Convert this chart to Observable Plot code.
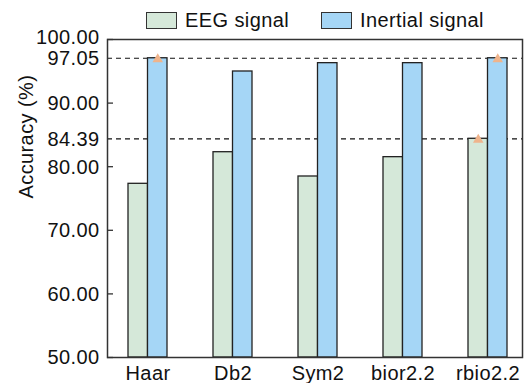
<!DOCTYPE html>
<html><head><meta charset="utf-8">
<script src="https://cdn.jsdelivr.net/npm/d3@7"></script>
<script src="https://cdn.jsdelivr.net/npm/@observablehq/plot@0.6"></script>
<style>
body{margin:0;background:#fff;font-family:"Liberation Sans",Arial,sans-serif;}
#wrap{position:relative;width:524px;height:383px;overflow:hidden}
#chart{position:absolute;left:0;top:0}
#chart svg text{letter-spacing:0.4px}
#legend{position:absolute;left:0;top:0;width:524px;height:34px;font-size:20px;letter-spacing:0.4px;color:#111}
.item{position:absolute;top:12px;display:flex;align-items:center;height:17px}
.sw{width:29px;height:15px;border:1px solid #333;margin-right:8px;box-sizing:content-box}
</style></head><body>
<div id="wrap"><div id="chart"></div><div id="legend"></div></div>
<script>
const categories = ["Haar", "Db2", "Sym2", "bior2.2", "rbio2.2"];
const seriesNames = ["EEG signal", "Inertial signal"];
const eegValues = [77.31, 82.28, 78.46, 81.50, 84.39];
const inertialValues = [97.05, 94.97, 96.28, 96.28, 97.05];
const yTicks = [50, 60, 70, 80, 90, 100];
const yTickLabels = [50, 60, 70, 80, 84.39, 90, 97.05];
const yTopLabel = [100];
const refLines = [97.05, 84.39];
const seriesColors = ["#d5e8d9", "#a5d6f6"];
const markerColor = "#efb48c";

const eeg = categories.map((c, i) => ({cat: c, value: eegValues[i]}));
const inertial = categories.map((c, i) => ({cat: c, value: inertialValues[i]}));
const eegMax = d3.max(eegValues), inMax = d3.max(inertialValues);
const eegMarks = eeg.filter(d => d.value === eegMax);
const inMarks = inertial.filter(d => d.value === inMax);

const half = 19.5;
const fs = 20;
const chart = Plot.plot({
  width: 524, height: 383,
  marginLeft: 107, marginRight: 2, marginTop: 39, marginBottom: 26,
  style: {fontFamily: '"Liberation Sans", Arial, sans-serif', fontSize: fs + "px", color: "#111", background: "#fff"},
  x: {domain: categories, range: [104.5, 529.5], paddingInner: 0.5412, paddingOuter: 0.2706, label: null},
  y: {domain: [50, 100], label: null},
  marks: [
    Plot.ruleY(refLines, {stroke: "#111", strokeDasharray: "5,4", strokeWidth: 1.2}),
    Plot.barY(eeg, {x: "cat", y: "value", y1: 50, fill: seriesColors[0], stroke: "#222", strokeWidth: 1.3, insetRight: half}),
    Plot.barY(inertial, {x: "cat", y: "value", y1: 50, fill: seriesColors[1], stroke: "#222", strokeWidth: 1.3, insetLeft: half}),
    Plot.frame({stroke: "#333", strokeWidth: 1.5}),
    Plot.axisY(yTicks, {tickSize: 6, dx: 6, tickFormat: () => "", stroke: "#333", strokeWidth: 1.3}),
    Plot.axisY(yTickLabels, {tickSize: 0, tickPadding: 8, tickFormat: d3.format(".2f"), fontSize: fs, dy: 0.5}),
    Plot.axisY(yTopLabel, {tickSize: 0, tickPadding: 8, tickFormat: d3.format(".2f"), fontSize: fs, dy: -2}),
    Plot.axisX({tickSize: 0, tickPadding: 8, fontSize: fs}),
    Plot.text(["Accuracy (%)"], {frameAnchor: "left", rotate: -90, dx: -81, fontSize: fs}),
    Plot.dot(eegMarks, {x: "cat", y: "value", symbol: "triangle", r: 3.9, fill: markerColor, dx: -half / 2, dy: 1}),
    Plot.dot(inMarks, {x: "cat", y: "value", symbol: "triangle", r: 3.9, fill: markerColor, dx: half / 2, dy: 1})
  ]
});
document.getElementById("chart").appendChild(chart);

const legend = document.getElementById("legend");
const legendLeft = [146, 321];
seriesNames.forEach((name, i) => {
  const item = document.createElement("div");
  item.className = "item";
  item.style.left = legendLeft[i] + "px";
  const sw = document.createElement("div");
  sw.className = "sw";
  sw.style.background = seriesColors[i];
  const t = document.createElement("span");
  t.textContent = name;
  item.appendChild(sw); item.appendChild(t);
  legend.appendChild(item);
});
</script>
</body></html>
